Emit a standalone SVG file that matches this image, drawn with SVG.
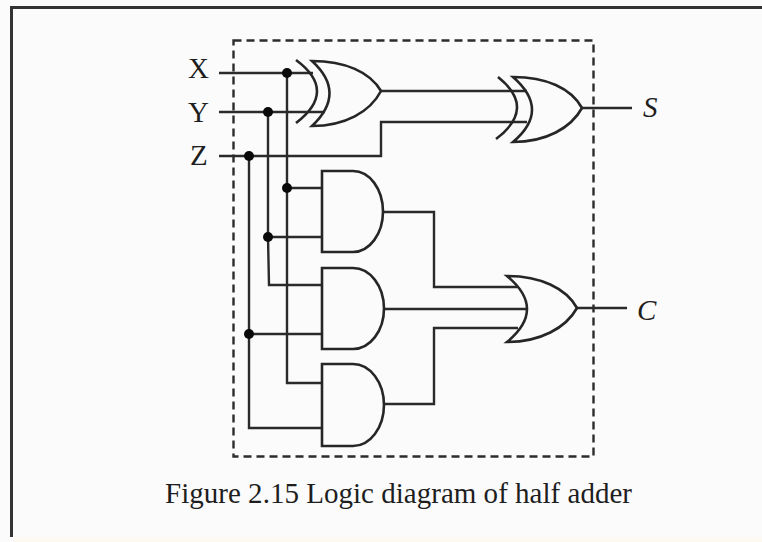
<svg xmlns="http://www.w3.org/2000/svg" width="762" height="542" viewBox="0 0 762 542">
<style>
.w{fill:none;stroke:#2a2a2a;stroke-width:2.400;stroke-linejoin:miter}
.g{fill:none;stroke:#262626;stroke-width:2.600}
.d{fill:#0a0a0a}
.t{font-family:"Liberation Serif",serif;fill:#1e1e1e;font-size:29px}
.i{font-style:italic}
</style>
<rect width="762" height="542" fill="#fbfbfb"/>
<rect y="537" x="14" width="748" height="5" fill="#fdf8f1"/>
<path d="M11.500 537V7.500H762" fill="none" stroke="#333" stroke-width="3"/>
<rect id="boundary" x="233.500" y="40.500" width="360" height="416" fill="none" stroke="#2c2c2c" stroke-width="2.400" stroke-dasharray="8 5"/>
<g id="connectors">
<path class="w" d="M219 73H313M219 112H325M219 156H381V122H527M381 91H527"/>
<path class="w" d="M287 73V383H322M268 112V237M268 237L269 285H322M249 156V428H322"/>
<path class="w" d="M287 188H322M268 237H322M249 334H322"/>
<path class="w" d="M383 212H434V287H517M384 309H527M384 404H434V328H518"/>
<path class="w" d="M582 108H632M577 308H627"/>
<circle class="d" cx="287" cy="73" r="5"/>
<circle class="d" cx="268" cy="112" r="5"/>
<circle class="d" cx="249" cy="156" r="5"/>
<circle class="d" cx="287" cy="188" r="5"/>
<circle class="d" cx="268" cy="237" r="5"/>
<circle class="d" cx="249" cy="334" r="5"/>
</g>
<g id="xor1"><path class="g" d="M296 60Q338 91 296 123"/><path class="g" d="M312 61C345 61 370 72 381 91C370 112 345 126 312 126Q347 93 312 61Z"/></g>
<g id="xor2"><path class="g" d="M498 77Q537 108 496 139"/><path class="g" d="M513 77C546 77 571 88 582 108C571 128 546 142 513 142Q551 110 513 77Z"/></g>
<g id="and1"><path class="g" d="M322 171H353A30 40.500 0 0 1 353 252H322Z"/></g>
<g id="and2"><path class="g" d="M322 268H353A31 40.500 0 0 1 353 349H322Z"/></g>
<g id="and3"><path class="g" d="M322 364H353A31 41 0 0 1 353 446H322Z"/></g>
<g id="or1"><path class="g" d="M507 276C540 276 566 288 577 308C566 328 540 342 507 342Q547 309 507 276Z"/></g>
<g id="labels">
<text class="t" x="188" y="78">X</text>
<text class="t" x="188" y="122">Y</text>
<text class="t" x="190" y="165">Z</text>
<text class="t i" x="643" y="117">S</text>
<text class="t i" x="637" y="320">C</text>
<text class="t" x="165" y="503" textLength="467">Figure 2.15 Logic diagram of half adder</text>
</g>
</svg>
